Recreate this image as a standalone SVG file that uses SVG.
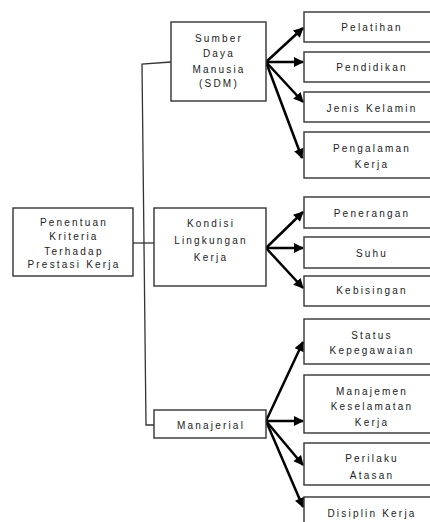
<svg xmlns="http://www.w3.org/2000/svg" width="430" height="522" viewBox="0 0 430 522">
<defs>
<style>
.box{fill:#fff;stroke:#333;stroke-width:1.4}
.t{font-family:"Liberation Sans",Arial,sans-serif;font-size:10px;letter-spacing:2.2px;fill:#222;text-anchor:middle}
.ln{fill:none;stroke:#333;stroke-width:1.3}
.ar{fill:none;stroke:#000;stroke-width:2.5;marker-end:url(#ah)}
</style>
<marker id="ah" viewBox="0 0 10 10" refX="9" refY="5" markerWidth="4.2" markerHeight="4" markerUnits="strokeWidth" orient="auto">
<path d="M0,0 L10,5 L0,10 z" fill="#000"/>
</marker>
</defs>
<g id="connectors">
<polyline class="ln" points="171,62 142,64 146,425 154,425"/>
<line class="ln" x1="133" y1="243" x2="154" y2="243"/>
<line class="ar" x1="266" y1="62" x2="303" y2="28"/>
<line class="ar" x1="266" y1="62" x2="303" y2="62"/>
<line class="ar" x1="266" y1="62" x2="303" y2="102"/>
<line class="ar" x1="266" y1="62" x2="302" y2="158"/>
<line class="ar" x1="266" y1="248" x2="303" y2="212"/>
<line class="ar" x1="266" y1="248" x2="303" y2="248"/>
<line class="ar" x1="266" y1="248" x2="303" y2="288"/>
<line class="ar" x1="266" y1="421" x2="303" y2="342"/>
<line class="ar" x1="266" y1="421" x2="303" y2="421"/>
<line class="ar" x1="266" y1="421" x2="303" y2="465"/>
<line class="ar" x1="266" y1="421" x2="303" y2="507"/>
</g>
<g id="root"><rect class="box" x="13" y="208" width="120" height="68"/>
<text class="t" x="74" y="226">Penentuan</text><text class="t" x="74" y="240">Kriteria</text><text class="t" x="74" y="255">Terhadap</text><text class="t" x="74" y="268">Prestasi Kerja</text></g>
<g id="sdm"><rect class="box" x="171" y="22" width="95" height="79"/>
<text class="t" x="219" y="42">Sumber</text><text class="t" x="219" y="57">Daya</text><text class="t" x="219" y="73">Manusia</text><text class="t" x="219" y="87">(SDM)</text></g>
<g id="kondisi"><rect class="box" x="154" y="208" width="112" height="78"/>
<text class="t" x="211" y="227">Kondisi</text><text class="t" x="211" y="244">Lingkungan</text><text class="t" x="211" y="261">Kerja</text></g>
<g id="manajerial"><rect class="box" x="154" y="410" width="112" height="28"/>
<text class="t" x="211" y="429">Manajerial</text></g>
<g id="pelatihan"><rect class="box" x="304" y="12" width="140" height="30"/><text class="t" x="372" y="31">Pelatihan</text></g>
<g id="pendidikan"><rect class="box" x="304" y="52" width="140" height="30"/><text class="t" x="372" y="71">Pendidikan</text></g>
<g id="jenis"><rect class="box" x="304" y="92" width="140" height="30"/><text class="t" x="372" y="112">Jenis Kelamin</text></g>
<g id="pengalaman"><rect class="box" x="304" y="132" width="140" height="46"/><text class="t" x="372" y="152">Pengalaman</text><text class="t" x="372" y="168">Kerja</text></g>
<g id="penerangan"><rect class="box" x="304" y="197" width="140" height="31"/><text class="t" x="372" y="217">Penerangan</text></g>
<g id="suhu"><rect class="box" x="304" y="237" width="140" height="31"/><text class="t" x="372" y="257">Suhu</text></g>
<g id="kebisingan"><rect class="box" x="304" y="276" width="140" height="30"/><text class="t" x="372" y="294">Kebisingan</text></g>
<g id="status"><rect class="box" x="304" y="319" width="140" height="45"/><text class="t" x="372" y="339">Status</text><text class="t" x="372" y="354">Kepegawaian</text></g>
<g id="manajemen"><rect class="box" x="304" y="375" width="140" height="58"/><text class="t" x="372" y="395">Manajemen</text><text class="t" x="372" y="410">Keselamatan</text><text class="t" x="372" y="426">Kerja</text></g>
<g id="perilaku"><rect class="box" x="304" y="443" width="140" height="42"/><text class="t" x="372" y="462">Perilaku</text><text class="t" x="372" y="479">Atasan</text></g>
<g id="disiplin"><rect class="box" x="304" y="497" width="140" height="40"/><text class="t" x="372" y="517">Disiplin Kerja</text></g>
</svg>
